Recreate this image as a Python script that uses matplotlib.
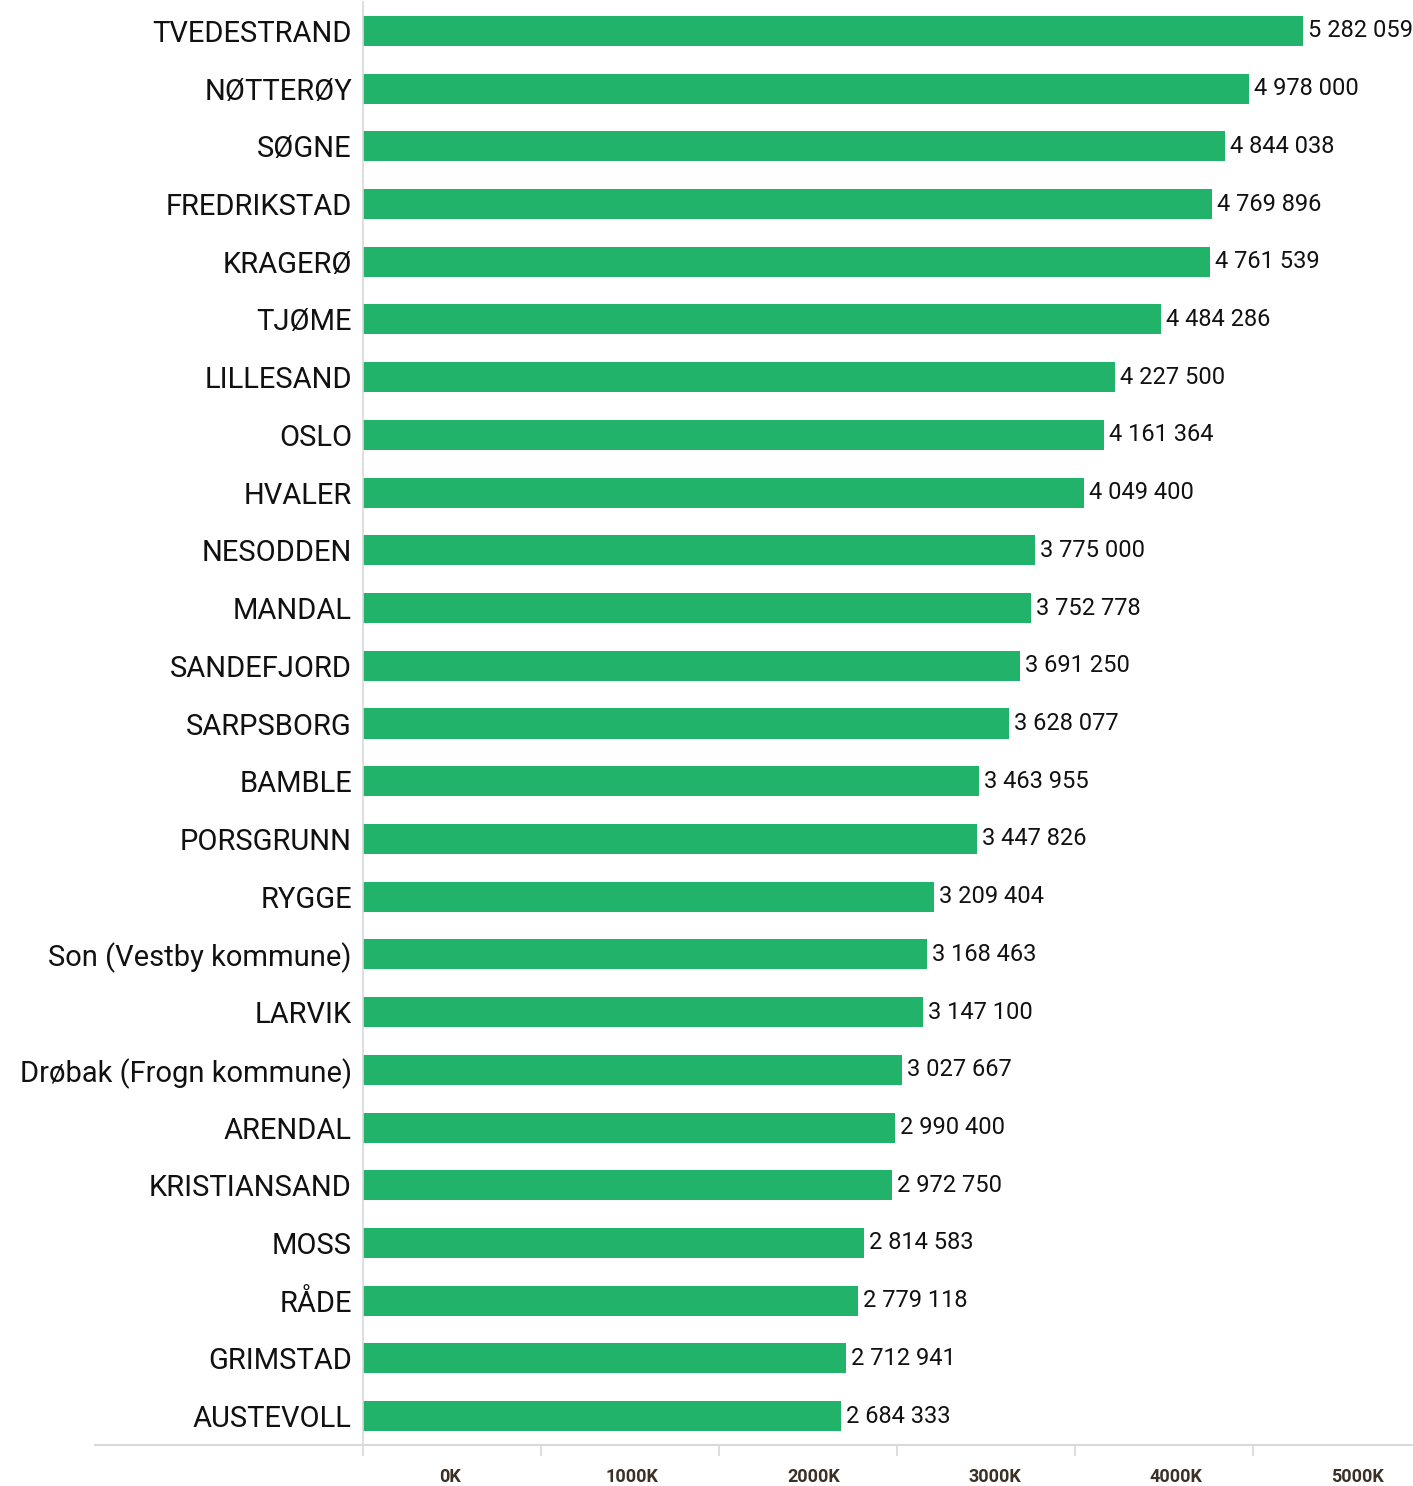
import matplotlib.pyplot as plt
from matplotlib import font_manager

names = ["TVEDESTRAND", "NØTTERØY", "SØGNE", "FREDRIKSTAD", "KRAGERØ", "TJØME",
         "LILLESAND", "OSLO", "HVALER", "NESODDEN", "MANDAL", "SANDEFJORD",
         "SARPSBORG", "BAMBLE", "PORSGRUNN", "RYGGE", "Son (Vestby kommune)",
         "LARVIK", "Drøbak (Frogn kommune)", "ARENDAL", "KRISTIANSAND", "MOSS",
         "RÅDE", "GRIMSTAD", "AUSTEVOLL"]
values = [5282059, 4978000, 4844038, 4769896, 4761539, 4484286, 4227500,
          4161364, 4049400, 3775000, 3752778, 3691250, 3628077, 3463955,
          3447826, 3209404, 3168463, 3147100, 3027667, 2990400, 2972750,
          2814583, 2779118, 2712941, 2684333]
tick_vals = [0, 1000000, 2000000, 3000000, 4000000, 5000000]
tick_text = ["0K", "1000K", "2000K", "3000K", "4000K", "5000K"]

avail = {f.name for f in font_manager.fontManager.ttflist}
fam = "Liberation Sans Narrow" if "Liberation Sans Narrow" in avail else "Roboto"

def fmt(v):
    return f"{v:,}".replace(",", " ")

fig = plt.figure(figsize=(14.13, 14.86), dpi=100)
ax = fig.add_axes([363/1413, 1 - 1445/1486, 1050/1413, 1443/1486])

y = list(range(len(names)))
ax.barh(y, values, height=0.52, color="#22B36B")
for yi, v in zip(y, values):
    ax.text(v + 28000, yi, fmt(v), va="center", ha="left", fontsize=17,
            family=fam, color="#111111")

ax.set_ylim(len(names) - 0.5, -0.5)
ax.set_xlim(0, 5.9e6)
ax.set_yticks(y)
ax.set_yticklabels(names, fontsize=21, family=fam, color="#111111")
ax.tick_params(axis="y", length=0, pad=8)

ax.set_xticks(tick_vals)
ax.set_xticklabels([])
ax.tick_params(axis="x", length=8, color="#d9d9d9", width=1.2)
# labels sit offset half a step from the ticks, as in the original
for i, t in enumerate(tick_text):
    ax.text(tick_vals[i] + 0.49e6 + i * 0.02e6, -0.0225, t, transform=ax.get_xaxis_transform(),
            ha="center", va="center", fontsize=13, fontweight="bold",
            family=fam, color="#3b3025")

for s in ["top", "right", "bottom"]:
    ax.spines[s].set_visible(False)
ax.spines["left"].set_color("#d9d9d9")
ax.spines["left"].set_linewidth(1.2)

# bottom line extends to the left of the axis
fig.add_artist(plt.Line2D([95/1413, 1], [1 - 1445/1486] * 2, color="#d9d9d9", lw=1.5))

fig.savefig("out.png", dpi=100)
